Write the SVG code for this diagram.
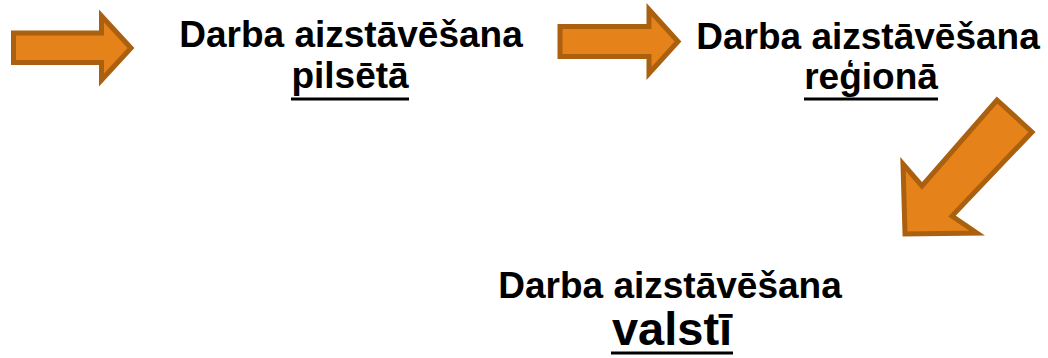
<svg xmlns="http://www.w3.org/2000/svg" width="1048" height="358" viewBox="0 0 1048 358">
<style>
.arrow{fill:#E5821A;stroke:#AA600F;stroke-width:5;stroke-linejoin:miter}
.t{font-family:"Liberation Sans",Arial,sans-serif;font-weight:bold;fill:#000;text-anchor:middle}
.ul{stroke:#000;stroke-width:3}
</style>
<g id="connectors">
<polygon id="arrow1" class="arrow" points="13.5,33 101.5,33 101.5,16 131,48 101.5,80 101.5,62.5 13.5,62.5"/>
<polygon id="arrow2" class="arrow" points="560,26.5 649,26.5 649,9.5 678,41.5 649,73.5 649,56.5 560,56.5"/>
<polygon id="arrow3" class="arrow" points="997,100 1032,132 952,216 977,233 905,234 903,164 922,186"/>
</g>
<g id="node1">
<text class="t" x="351" y="47" font-size="37">Darba aizstāvēšana</text>
<text class="t" x="350" y="88" font-size="37">pilsētā</text>
<line class="ul" x1="291" y1="99" x2="409" y2="99"/>
</g>
<g id="node2">
<text class="t" x="868" y="49" font-size="37">Darba aizstāvēšana</text>
<text class="t" x="871" y="89" font-size="37">reģionā</text>
<line class="ul" x1="804" y1="99" x2="938" y2="99"/>
</g>
<g id="node3">
<text class="t" x="670" y="298" font-size="37">Darba aizstāvēšana</text>
<text class="t" x="672" y="345" font-size="47">valstī</text>
<line class="ul" x1="611" y1="353" x2="733" y2="353" stroke-width="3.5"/>
</g>
</svg>
